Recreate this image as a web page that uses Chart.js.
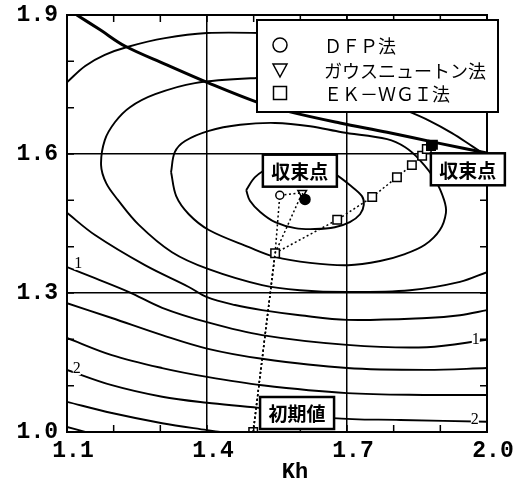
<!DOCTYPE html>
<html>
<head>
<meta charset="utf-8">
<script src="https://cdn.jsdelivr.net/npm/chart.js@4/dist/chart.umd.min.js"></script>
<style>
    html, body { margin: 0; padding: 0; background: #fff; }
    #chart-container { width: 522px; height: 485px; }
</style>
</head>
<body>
<div id="chart-container"><canvas></canvas></div>
<script>
// labelled ticks, the other 0.1 steps get a small inward tick only
const xTickLabels = [1.1, 1.4, 1.7, 2.0];
const yTickLabels = [1.0, 1.3, 1.6, 1.9];

// contour lines (x = Kh)
const c1X = [1.484, 1.503, 1.535, 1.599, 1.642, 1.674, 1.706, 1.732, 1.736, 1.728, 1.706, 1.674, 1.631, 1.589, 1.546, 1.514, 1.492, 1.484];
const c1Y = [1.522, 1.550, 1.570, 1.578, 1.574, 1.557, 1.533, 1.509, 1.490, 1.470, 1.453, 1.442, 1.438, 1.440, 1.453, 1.475, 1.499, 1.522];
const c2X = [1.323, 1.331, 1.353, 1.404, 1.471, 1.546, 1.621, 1.689, 1.786, 1.824, 1.856, 1.889, 1.908, 1.912, 1.899, 1.867, 1.824, 1.771, 1.702, 1.621, 1.546, 1.490, 1.404, 1.361, 1.334, 1.323];
const c2Y = [1.561, 1.604, 1.628, 1.650, 1.663, 1.667, 1.660, 1.647, 1.632, 1.615, 1.587, 1.544, 1.501, 1.473, 1.436, 1.404, 1.384, 1.369, 1.360, 1.365, 1.378, 1.399, 1.436, 1.470, 1.509, 1.561];
const c3X = [2.000, 1.968, 1.925, 1.878, 1.824, 1.706, 1.599, 1.507, 1.374, 1.289, 1.235, 1.203, 1.181, 1.173, 1.184, 1.209, 1.254, 1.325, 1.402, 1.518, 1.599, 1.700, 1.835, 1.942, 2.000];
const c3Y = [1.596, 1.617, 1.645, 1.671, 1.695, 1.742, 1.764, 1.764, 1.753, 1.729, 1.701, 1.669, 1.630, 1.576, 1.537, 1.501, 1.447, 1.388, 1.352, 1.317, 1.306, 1.302, 1.306, 1.324, 1.345];
const c4TopX = [1.100, 1.139, 1.181, 1.229, 1.310, 1.400, 1.514, 1.599];
const c4TopY = [1.755, 1.790, 1.814, 1.831, 1.850, 1.861, 1.861, 1.857];
const c4X = [1.100, 1.160, 1.267, 1.361, 1.400, 1.460, 1.518, 1.599, 1.700, 1.871, 1.942, 2.000];
const c4Y = [1.473, 1.425, 1.360, 1.313, 1.291, 1.274, 1.263, 1.252, 1.242, 1.246, 1.252, 1.263];
const c5X = [1.100, 1.160, 1.233, 1.304, 1.400, 1.518, 1.700, 1.871, 2.000];
const c5Y = [1.356, 1.332, 1.302, 1.268, 1.237, 1.209, 1.188, 1.183, 1.199];
const c6X = [1.100, 1.196, 1.304, 1.400, 1.518, 1.700, 1.871, 2.000];
const c6Y = [1.278, 1.246, 1.209, 1.180, 1.158, 1.138, 1.134, 1.138];
const c7X = [1.100, 1.196, 1.304, 1.400, 1.518, 1.700, 1.871, 2.000];
const c7Y = [1.203, 1.166, 1.138, 1.119, 1.101, 1.084, 1.080, 1.080];
const c8X = [1.100, 1.196, 1.304, 1.400, 1.511, 1.670, 1.814, 2.000];
const c8Y = [1.134, 1.101, 1.076, 1.063, 1.052, 1.030, 1.026, 1.022];
const c9X = [1.100, 1.196, 1.304, 1.400, 1.428];
const c9Y = [1.065, 1.041, 1.019, 1.004, 1.000];
const c10X = [1.100, 1.139];
const c10Y = [1.011, 1.000];

// thick boundary line from top left to the right edge
const boundX = [1.121, 1.171, 1.224, 1.310, 1.404, 1.507, 1.578, 1.685, 1.786, 1.893, 2.000];
const boundY = [1.900, 1.868, 1.833, 1.794, 1.753, 1.712, 1.691, 1.667, 1.647, 1.624, 1.602];

// iteration paths
const dfpX = [1.499, 1.546, 1.556, 1.604, 1.610];
const dfpY = [1.000, 1.386, 1.511, 1.516, 1.502];
const gaussX = [1.499, 1.546, 1.604, 1.610];
const gaussY = [1.000, 1.386, 1.516, 1.502];
const ekwgiX = [1.499, 1.546, 1.679, 1.754, 1.807, 1.839, 1.861, 1.871, 1.880, 1.884];
const ekwgiY = [1.000, 1.386, 1.458, 1.507, 1.550, 1.576, 1.596, 1.611, 1.617, 1.620];

const levelLabels = [
    { text: '1', x: 1.124, y: 1.363 },
    { text: '2', x: 1.121, y: 1.136 },
    { text: '1', x: 1.976, y: 1.199 },
    { text: '2', x: 1.974, y: 1.026 },
];

const notes = [
    { text: '収束点', x: 1.599, y: 1.564 },
    { text: '収束点', x: 1.959, y: 1.567 },
    { text: '初期値', x: 1.593, y: 1.041 },
];

window.onload = function() {
    createChart();
}

function toPoints(xs, ys) {
    return xs.map((x, i) => ({ x: x, y: ys[i] }));
}

function isOneOf(value, list) {
    return list.some(v => Math.abs(v - value) < 1e-6);
}

function contour(xs, ys, width) {
    return {
        data: toPoints(xs, ys),
        showLine: true,
        borderColor: '#000',
        borderWidth: width || 1.9,
        pointRadius: 0,
        tension: 0.35,
        fill: false,
    };
}

function path(label, xs, ys, style, radius, fills) {
    return {
        label: label,
        data: toPoints(xs, ys),
        showLine: true,
        borderColor: '#000',
        borderWidth: 1.5,
        borderDash: [2, 2.5],
        pointStyle: style,
        rotation: style === 'triangle' ? 180 : 0,
        pointRadius: radius,
        pointBorderWidth: 1.5,
        pointBorderColor: '#000',
        pointBackgroundColor: fills,
        tension: 0,
    };
}

const annotations = {
    id: 'annotations',
    afterDatasetsDraw(chart) {
        const ctx = chart.ctx;
        const area = chart.chartArea;
        const xScale = chart.scales.x;
        const yScale = chart.scales.y;

        ctx.save();
        ctx.strokeStyle = '#000';
        ctx.fillStyle = '#000';

        // small inward ticks on all four sides
        ctx.lineWidth = 1.5;
        ctx.beginPath();
        for (let i = 1; i < 9; i++) {
            const xv = 1.1 + i * 0.1;
            const yv = 1.0 + i * 0.1;
            const px = xScale.getPixelForValue(xv);
            const py = yScale.getPixelForValue(yv);
            ctx.moveTo(px, area.bottom);
            ctx.lineTo(px, area.bottom - 7);
            ctx.moveTo(px, area.top);
            ctx.lineTo(px, area.top + 7);
            ctx.moveTo(area.left, py);
            ctx.lineTo(area.left + 7, py);
            ctx.moveTo(area.right, py);
            ctx.lineTo(area.right - 7, py);
        }
        ctx.stroke();

        // frame
        ctx.lineWidth = 2;
        ctx.strokeRect(area.left, area.top, area.right - area.left, area.bottom - area.top);

        // contour level numbers
        ctx.font = '16px "Liberation Serif"';
        ctx.textAlign = 'center';
        ctx.textBaseline = 'middle';
        levelLabels.forEach(item => {
            const px = xScale.getPixelForValue(item.x);
            const py = yScale.getPixelForValue(item.y);
            ctx.fillStyle = '#fff';
            ctx.fillRect(px - 4, py - 6, 8, 12);
            ctx.fillStyle = '#000';
            ctx.fillText(item.text, px, py);
        });

        // boxed notes
        ctx.font = 'bold 19px "Noto Sans CJK JP"';
        notes.forEach(item => {
            const px = xScale.getPixelForValue(item.x);
            const py = yScale.getPixelForValue(item.y);
            ctx.fillStyle = '#fff';
            ctx.fillRect(px - 37, py - 16, 74, 32);
            ctx.lineWidth = 2.5;
            ctx.strokeRect(px - 37, py - 16, 74, 32);
            ctx.fillStyle = '#000';
            ctx.fillText(item.text, px, py + 1);
        });

        // legend box
        const left = area.left + 190;
        const top = area.top + 5;
        ctx.fillStyle = '#fff';
        ctx.fillRect(left, top, 241, 92);
        ctx.lineWidth = 2;
        ctx.strokeRect(left, top, 241, 92);

        ctx.textAlign = 'left';
        ctx.font = '18px "Noto Sans CJK JP"';
        ctx.lineWidth = 1.5;
        const rows = [top + 25, top + 50, top + 73];
        chart.data.datasets.filter(d => d.label).forEach((d, i) => {
            const mx = left + 23;
            const my = rows[i];
            ctx.beginPath();
            if (d.pointStyle === 'circle') {
                ctx.arc(mx, my, 7, 0, Math.PI * 2);
            } else if (d.pointStyle === 'triangle') {
                ctx.moveTo(mx - 7, my - 6);
                ctx.lineTo(mx + 7, my - 6);
                ctx.lineTo(mx, my + 7);
                ctx.closePath();
            } else {
                ctx.rect(mx - 6.5, my - 6.5, 13, 13);
            }
            ctx.stroke();
            ctx.fillStyle = '#000';
            ctx.fillText(d.label, left + 67, my + 1);
        });

        // axis title
        ctx.font = 'bold 22px "Liberation Mono"';
        ctx.textAlign = 'center';
        ctx.fillText('Kh', 295, 472);

        ctx.restore();
    }
};

function createChart() {
    const chartCanvas = document.querySelector('#chart-container > canvas');
    const tickFont = { family: 'Liberation Mono', size: 23, weight: 'bold' };

    new Chart(chartCanvas, {
        type: 'scatter',
        data: {
            datasets: [
                path('ＤＦＰ法', dfpX, dfpY, 'circle', [0, 0, 4, 0, 5],
                    ['#fff', '#fff', '#fff', '#fff', '#000']),
                path('ガウスニュートン法', gaussX, gaussY, 'triangle', [0, 0, 5, 0],
                    '#fff'),
                path('ＥＫ－ＷＧＩ法', ekwgiX, ekwgiY, 'rect', [6, 6, 6, 6, 6, 6, 6, 6, 6, 6],
                    ['#fff', '#fff', '#fff', '#fff', '#fff', '#fff', '#fff', '#fff', '#000', '#000']),
                contour(boundX, boundY, 3),
                contour(c1X, c1Y),
                contour(c2X, c2Y),
                contour(c3X, c3Y),
                contour(c4TopX, c4TopY),
                contour(c4X, c4Y),
                contour(c5X, c5Y),
                contour(c6X, c6Y),
                contour(c7X, c7Y),
                contour(c8X, c8Y),
                contour(c9X, c9Y),
                contour(c10X, c10Y),
            ],
        },
        options: {
            responsive: true,
            maintainAspectRatio: false,
            animation: false,
            layout: {
                padding: { top: 15, right: 35, left: 0, bottom: 0 },
            },
            plugins: {
                legend: { display: false },
                tooltip: { enabled: false },
            },
            scales: {
                x: {
                    type: 'linear',
                    min: 1.1,
                    max: 2.0,
                    afterFit: scale => {
                        scale.height = 53;
                        scale.paddingLeft = 0;
                        scale.paddingRight = 0;
                    },
                    border: { display: false },
                    grid: {
                        drawTicks: false,
                        lineWidth: 1.5,
                        color: ctx => ctx.tick && isOneOf(ctx.tick.value, [1.4, 1.7]) ? '#000' : 'rgba(0,0,0,0)',
                    },
                    ticks: {
                        stepSize: 0.1,
                        autoSkip: false,
                        maxRotation: 0,
                        padding: 5,
                        labelOffset: 6,
                        color: '#000',
                        font: tickFont,
                        callback: value => isOneOf(value, xTickLabels) ? value.toFixed(1) : '',
                    },
                },
                y: {
                    type: 'linear',
                    min: 1.0,
                    max: 1.9,
                    afterFit: scale => {
                        scale.width = 67;
                        scale.paddingTop = 0;
                        scale.paddingBottom = 0;
                    },
                    border: { display: false },
                    grid: {
                        drawTicks: false,
                        lineWidth: 1.5,
                        color: ctx => ctx.tick && isOneOf(ctx.tick.value, [1.3, 1.6]) ? '#000' : 'rgba(0,0,0,0)',
                    },
                    ticks: {
                        stepSize: 0.1,
                        autoSkip: false,
                        padding: 9,
                        color: '#000',
                        font: tickFont,
                        callback: value => isOneOf(value, yTickLabels) ? value.toFixed(1) : '',
                    },
                },
            },
        },
        plugins: [annotations],
    });
}
</script>
</body>
</html>
